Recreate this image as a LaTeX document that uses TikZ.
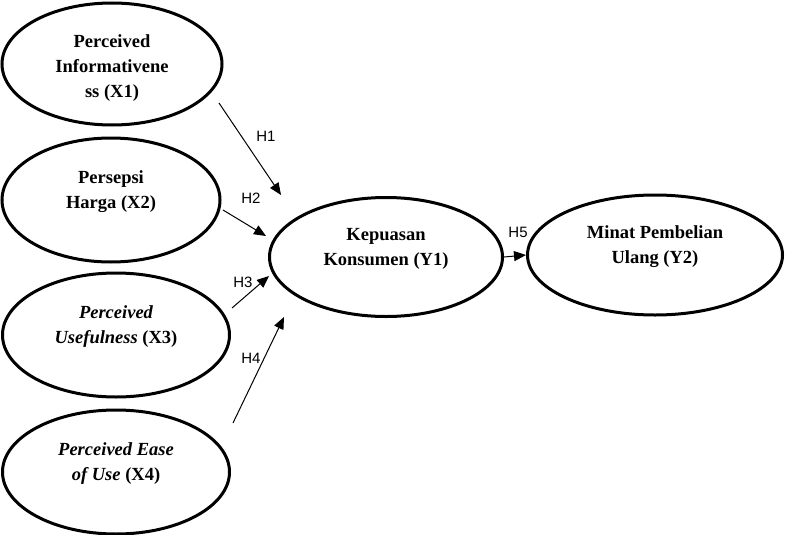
\documentclass[tikz,border=0pt]{standalone}
\usepackage{fontspec}
\setmainfont{Liberation Serif}
\newfontfamily\labfont{Liberation Sans}
\usetikzlibrary{shapes.geometric,arrows.meta}
\newcommand{\toppad}{\rule{0pt}{25pt}}
\tikzset{
  var/.style={ellipse, draw, line width=3pt, inner sep=0pt, align=center,
    font=\fontsize{18.5}{25}\selectfont\bfseries},
  hyp/.style={-{Triangle[length=12pt,width=10pt]}, line width=1pt},
  hlab/.style={font=\labfont\fontsize{15}{17}\selectfont, inner sep=0pt}
}
\begin{document}
\begin{tikzpicture}[x=1pt,y=-1pt]
\useasboundingbox (0,0) rectangle (800,535);
\node[var, minimum width=220pt, minimum height=122pt] (x1) at (112,64) {\toppad Perceived\\Informativene\\ss (X1)\strut};
\node[var, minimum width=218pt, minimum height=124pt] (x2) at (111,200) {\toppad Persepsi\\Harga (X2)\\\strut};
\node[var, minimum width=227pt, minimum height=124pt] (x3) at (116,335) {\toppad\itshape Perceived\\\itshape Usefulness \upshape(X3)\\\strut};
\node[var, minimum width=227pt, minimum height=124pt] (x4) at (116,472) {\toppad\itshape Perceived Ease\\\itshape of Use \upshape(X4)\\\strut};
\node[var, minimum width=233pt, minimum height=119pt] (y1) at (386,257) {\toppad Kepuasan\\Konsumen (Y1)\\\strut};
\node[var, minimum width=255pt, minimum height=120pt] (y2) at (655,255) {\toppad Minat Pembelian\\Ulang (Y2)\\\strut};
\coordinate (h1s) at (219,103); \coordinate (h1e) at (281,195);
\coordinate (h2s) at (223,210); \coordinate (h2e) at (266,236);
\coordinate (h3s) at (232,308); \coordinate (h3e) at (269,276);
\coordinate (h4s) at (233,423); \coordinate (h4e) at (284,317);
\draw[hyp] (h1s) -- (h1e);
\draw[hyp] (h2s) -- (h2e);
\draw[hyp] (h3s) -- (h3e);
\draw[hyp] (h4s) -- (h4e);
\draw[hyp] (y1.east) -- (y2.west);
\node[hlab] (l1) at (266,136) {H1};
\node[hlab] (l2) at (251,198) {H2};
\node[hlab] (l3) at (243,282) {H3};
\node[hlab] (l4) at (251,358) {H4};
\node[hlab] (l5) at (518,232) {H5};
\end{tikzpicture}
\end{document}
